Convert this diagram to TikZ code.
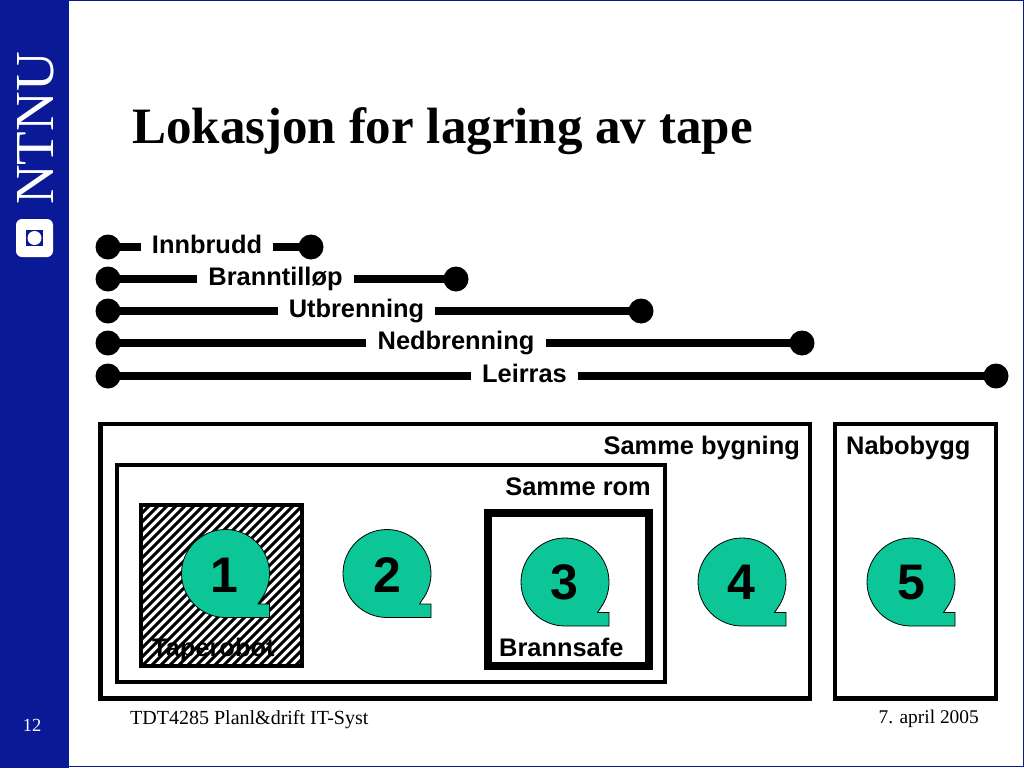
\documentclass[tikz,border=0pt]{standalone}
\usepackage{fontspec}
\setmainfont{Liberation Serif}
\newfontfamily\lab{Liberation Sans}
\definecolor{navy}{HTML}{0A1A96}
\definecolor{tapecol}{HTML}{0CC698}
\tikzset{
  px/.style={x=1pt,y=-1pt},
  lbl/.style={font=\lab\bfseries\fontsize{25.4}{25.4}\selectfont,inner sep=0pt,text height=18pt,text depth=5pt},
  spanlbl/.style={lbl,inner xsep=11pt},
  dotnode/.style={circle,fill=black,minimum size=25pt,inner sep=0pt},
  span/.style={line width=8pt},
  framebox/.style={draw=black,line width=4.3pt,fill=white},
  num/.style={font=\lab\bfseries\fontsize{50}{50}\selectfont,inner sep=0pt},
  foot/.style={font=\fontsize{20}{20}\selectfont,inner sep=0pt},
  tape/.pic={
    \fill[tapecol,draw=black,line width=0.8pt,x=1pt,y=1pt]
      (0,-44) arc[start angle=-90,end angle=-396,radius=44pt]
      -- (32.5,-30.5) -- (44,-30.5) -- (44,-44) -- cycle;
  }
}
\newcommand{\spanline}[5]{%
  \node[dotnode] (#1a) at (108,#3) {};
  \node[dotnode] (#1b) at (#4,#3) {};
  \node[spanlbl,anchor=base] (#1) at (#5,#3+6) {#2};
  \draw[span] (#1a.center) -- (#1a.center -| #1.west);
  \draw[span] (#1.east |- #1b.center) -- (#1b.center);
}
\begin{document}
\begin{tikzpicture}[px]
\useasboundingbox (0,0) rectangle (1024,768);
\fill[white] (0,0) rectangle (1024,768);
\draw[navy,line width=1.5pt] (0,0.75) -- (1023.25,0.75) -- (1023.25,766.5) -- (0,766.5);
\fill[navy] (0,0) rectangle (69,768);
% logo
\node[rotate=90,text=white,inner sep=0pt,font=\fontsize{55}{55}\selectfont,anchor=base] (ntnu) at (53,128.5) {NTNU};
\fill[white,rounded corners=6pt] (16,219) rectangle (53,257);
\fill[navy] (26,230) rectangle (43,246);
\fill[white] (34.5,238) circle[radius=7pt];
\node[inner sep=0pt,anchor=base west,font=\bfseries\fontsize{51}{51}\selectfont] (title) at (132,143) {Lokasjon for lagring av tape};
\spanline{s1}{Innbrudd}{247}{311}{207}
\spanline{s2}{Branntilløp}{279}{456}{275.5}
\spanline{s3}{Utbrenning}{311}{641}{356.5}
\spanline{s4}{Nedbrenning}{343}{802}{456}
\spanline{s5}{Leirras}{376}{996}{524.5}
% boxes
\draw[framebox] (100.5,424) rectangle (810,698.5);
\draw[framebox] (835,424) rectangle (996,698.5);
\draw[framebox] (117,465) rectangle (665,682);
\draw[framebox,line width=8pt] (487.5,513) rectangle (649,665.5);
\begin{scope}
  \clip (141,505) rectangle (302,666);
  \foreach \k in {0,9,...,342}{
    \draw[black,line width=3pt] (141+\k-170,666) -- (141+\k,496);
  }
\end{scope}
\draw[black,line width=4.3pt] (141,505) rectangle (302,666);
\node[lbl,anchor=base west] (labA) at (152,656) {Taperobot};
\node[lbl,anchor=base west] (labB) at (499,656) {Brannsafe};
\node[lbl,anchor=base east] (labC) at (800,454) {Samme bygning};
\node[lbl,anchor=base east] (labD) at (651,495) {Samme rom};
\node[lbl,anchor=base west] (labE) at (846,454) {Nabobygg};
\pic at (225.5,573.5) {tape};
\pic at (387,573.5) {tape};
\pic at (565,582) {tape};
\pic at (742,582) {tape};
\pic at (911,582) {tape};
\node[num] (n1) at (224,575) {1};
\node[num] (n2) at (387,575) {2};
\node[num] (n3) at (564,582.5) {3};
\node[num] (n4) at (741,582.5) {4};
\node[num] (n5) at (911,582.5) {5};
\node[foot,anchor=base west] (f1) at (130,724) {TDT4285 Planl\&drift IT-Syst};
\node[foot,anchor=base east,font=\fontsize{19.4}{19.4}\selectfont] (f2) at (979,723) {7. april 2005};
\node[foot,anchor=base,text=white,font=\fontsize{18.5}{18.5}\selectfont] (f3) at (32,731) {12};
\end{tikzpicture}
\end{document}
